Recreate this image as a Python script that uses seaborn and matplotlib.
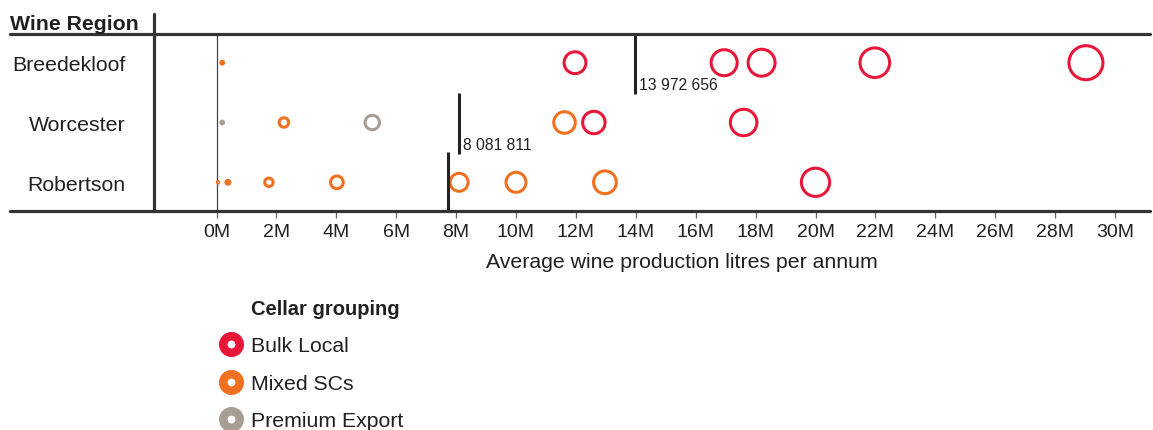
import matplotlib
matplotlib.use("Agg")
import matplotlib.pyplot as plt
from matplotlib.lines import Line2D
from matplotlib.ticker import FixedLocator
import seaborn as sns
import pandas as pd

# ---------------- data ----------------
regions = ["Breedekloof", "Worcester", "Robertson"]
groups = ["Bulk Local", "Mixed SCs", "Premium Export"]
group_colors = ["#E8173A", "#F07020", "#A89D93"]

cellar_region = (["Breedekloof"] * 6 + ["Worcester"] * 6 + ["Robertson"] * 8)
cellar_group = [
    "Mixed SCs", "Bulk Local", "Bulk Local", "Bulk Local", "Bulk Local", "Bulk Local",
    "Premium Export", "Mixed SCs", "Premium Export", "Mixed SCs", "Bulk Local", "Bulk Local",
    "Mixed SCs", "Mixed SCs", "Mixed SCs", "Mixed SCs", "Mixed SCs", "Mixed SCs", "Mixed SCs", "Bulk Local",
]
cellar_litres = [
    190000, 11970000, 16950000, 18200000, 21980000, 29030000,
    190000, 2250000, 5200000, 11620000, 12600000, 17600000,
    50000, 380000, 1750000, 4020000, 8100000, 10000000, 12970000, 20000000,
]
region_average = [13972656, 8081811, 7725578]

tick_values = [0, 2, 4, 6, 8, 10, 12, 14, 16, 18, 20, 22, 24, 26, 28, 30]
tick_labels = [f"{v}M" for v in tick_values]

df = pd.DataFrame({"region": cellar_region, "group": cellar_group, "litres": cellar_litres})

# ---------------- style ----------------
sns.set_theme(style="white")
plt.rcParams["font.family"] = ["Liberation Sans", "DejaVu Sans"]
TXT = "#231F20"
LINE = "#333333"

W, H = 1153, 431
fig = plt.figure(figsize=(W / 100, H / 100), dpi=100)
L, R, T, B = 154, 1150, 35, 212
ax = fig.add_axes([L / W, 1 - B / H, (R - L) / W, (B - T) / H])

palette = dict(zip(groups, group_colors))
sns.scatterplot(data=df, x="litres", y="region", hue="group", hue_order=groups,
                palette=palette, size="litres", sizes=(0, 620), size_norm=(0, 30e6),
                legend=False, ax=ax, zorder=3)
coll = ax.collections[-1]
fcs = coll.get_facecolors()
coll.set_edgecolors(fcs)
coll.set_facecolors("white")
coll.set_linewidths(2.2)

# axis limits (0M at x=216.5 px, 29.95 px per million)
x0_px, ppm = 216.5, 29.95
ax.set_xlim((L - x0_px) / ppm * 1e6, (R - x0_px) / ppm * 1e6)
ax.set_ylim(2.48, -0.48)

# zero line
ax.axvline(0, color="#444444", lw=0.9, zorder=1)

# region averages
for i, v in enumerate(region_average):
    ax.vlines(v, i - 0.5, i + 0.52, color="#222222", lw=2.2, zorder=4)
    ax.annotate(f"{v:,}".replace(",", " "), xy=(v, i + 0.52), xytext=(3, 1),
                textcoords="offset points", ha="left", va="bottom",
                fontsize=11.3, color=TXT, zorder=5)

# frame lines
xl = (10 - L) / (R - L)
for yy in (0, 1):
    ax.add_line(Line2D([xl, 1], [yy, yy], transform=ax.transAxes, color=LINE,
                       lw=2.3, clip_on=False, zorder=6))
ax.add_line(Line2D([0, 0], [0, (B - 15) / (B - T)], transform=ax.transAxes,
                   color=LINE, lw=2.3, clip_on=False, zorder=6))
for s in ax.spines.values():
    s.set_visible(False)

# ticks
ax.xaxis.set_major_locator(FixedLocator([v * 1e6 for v in tick_values]))
ax.set_xticklabels(tick_labels)
ax.tick_params(axis="x", bottom=True, length=5, width=0.9, color="#666666",
               labelsize=14, labelcolor=TXT, pad=3.5)
ax.tick_params(axis="y", left=False, length=0, pad=20.5, labelsize=15.3, labelcolor=TXT)
ax.set_ylabel("")
ax.set_xlabel("Average wine production litres per annum", fontsize=15.3, color=TXT)
ax.xaxis.set_label_coords((682 - L) / (R - L), (B - 253) / (B - T))
ax.xaxis.label.set_va("top")

# header
fig.text(10 / W, 1 - 30 / H, "Wine Region", fontsize=15.3, fontweight="bold",
         color=TXT, ha="left", va="baseline")

# legend
handles = [Line2D([], [], linestyle="none", marker=None)]
labels = ["Cellar grouping"]
for g, c in zip(groups, group_colors):
    handles.append(Line2D([], [], linestyle="none", marker="o", markersize=11.9,
                          markerfacecolor="white", markeredgecolor=c, markeredgewidth=6.1))
    labels.append(g)
leg = fig.legend(handles, labels, loc="upper left",
                 bbox_to_anchor=(218 / W, 1 - 300 / H), frameon=False,
                 fontsize=15.3, handlelength=1.2, handletextpad=0.34,
                 labelspacing=0.87, borderpad=0, borderaxespad=0)
for t in leg.get_texts():
    t.set_color(TXT)
leg.get_texts()[0].set_fontweight("bold")
leg.get_texts()[0].set_fontsize(14.5)

fig.savefig("out.png", dpi=100)
